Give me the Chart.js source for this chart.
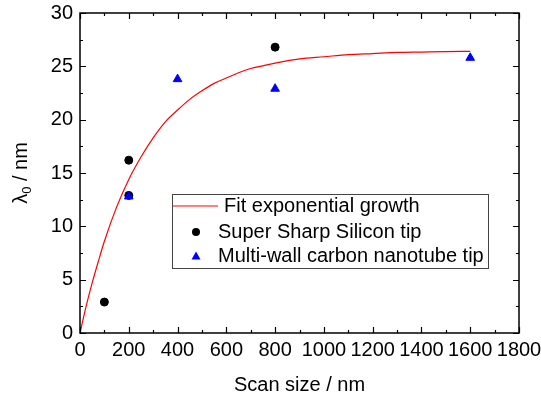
<!DOCTYPE html>
<html>
<head>
<meta charset="utf-8">
<script src="https://cdn.jsdelivr.net/npm/chart.js@4/dist/chart.umd.min.js"></script>
<style>
  html, body { margin: 0; padding: 0; background: #fff; }
  #wrap { width: 541px; height: 395px; position: relative; }
</style>
</head>
<body>
<div id="wrap"><canvas id="chart" width="541" height="395"></canvas></div>
<script>
// Super Sharp Silicon tip (black circles)
const siliconX = [100, 200, 200, 800];
const siliconY = [2.9, 16.2, 12.9, 26.8];

// Multi-wall carbon nanotube tip (blue triangles)
const nanotubeX = [200, 400, 800, 1600];
const nanotubeY = [12.8, 23.8, 22.9, 25.8];

// Fit exponential growth curve
const fitX = [0, 25, 50, 75, 100, 150, 200, 250, 300, 350, 400, 450, 500, 550, 600, 650, 700, 750, 800, 900, 1000, 1100, 1200, 1300, 1400, 1500, 1600];
const fitY = [0, 2.5, 4.7, 6.7, 8.6, 11.8, 14.4, 16.5, 18.3, 19.8, 20.9, 21.9, 22.7, 23.4, 23.9, 24.4, 24.8, 25.05, 25.3, 25.7, 25.9, 26.1, 26.2, 26.3, 26.34, 26.38, 26.4];

// Axis ticks
const xTicks = [0, 200, 400, 600, 800, 1000, 1200, 1400, 1600, 1800];
const yTicks = [0, 5, 10, 15, 20, 25, 30];

const legendLabels = ["Fit exponential growth", "Super Sharp Silicon tip", "Multi-wall carbon nanotube tip"];

const FONT = "'Liberation Sans', Arial, sans-serif";

function toPoints(xs, ys) {
  return xs.map((x, i) => ({ x: x, y: ys[i] }));
}

// Frame with inward major/minor ticks on all four sides
const framePlugin = {
  id: 'frame',
  afterDatasetsDraw(chart) {
    const ctx = chart.ctx;
    const a = chart.chartArea;
    const xs = chart.scales.x, ys = chart.scales.y;
    ctx.save();
    ctx.strokeStyle = '#000';
    ctx.lineWidth = 1.5;
    ctx.strokeRect(a.left, a.top, a.right - a.left, a.bottom - a.top);
    ctx.lineWidth = 1.2;
    ctx.beginPath();
    for (let v = 0; v <= 1800; v += 100) {
      const len = (v % 200 === 0) ? 6 : 3;
      const px = Math.round(xs.getPixelForValue(v)) + 0.5;
      ctx.moveTo(px, a.bottom); ctx.lineTo(px, a.bottom - len);
      ctx.moveTo(px, a.top); ctx.lineTo(px, a.top + len);
    }
    for (let v = 0; v <= 30; v += 2.5) {
      const len = (v % 5 === 0) ? 6 : 3;
      const py = Math.round(ys.getPixelForValue(v)) + 0.5;
      ctx.moveTo(a.left, py); ctx.lineTo(a.left + len, py);
      ctx.moveTo(a.right, py); ctx.lineTo(a.right - len, py);
    }
    ctx.stroke();
    ctx.restore();
  }
};

// Axis titles (with the subscript on lambda)
const titlesPlugin = {
  id: 'titles',
  afterDraw(chart) {
    const ctx = chart.ctx;
    const a = chart.chartArea;
    ctx.save();
    ctx.fillStyle = '#000';
    ctx.font = '20px ' + FONT;
    ctx.textAlign = 'center';
    ctx.textBaseline = 'alphabetic';
    ctx.fillText('Scan size / nm', (a.left + a.right) / 2, 391);

    // y title, rotated
    ctx.translate(27, (a.top + a.bottom) / 2);
    ctx.rotate(-Math.PI / 2);
    ctx.textAlign = 'left';
    const big = '20px ' + FONT, small = '13px ' + FONT;
    ctx.font = big;
    const w1 = ctx.measureText('\u03bb').width;
    const w3 = ctx.measureText(' / nm').width;
    ctx.font = small;
    const w2 = ctx.measureText('0').width;
    let x = -(w1 + w2 + w3) / 2;
    ctx.font = big;
    ctx.fillText('\u03bb', x, 0);
    x += w1;
    ctx.font = small;
    ctx.fillText('0', x, 4);
    x += w2;
    ctx.font = big;
    ctx.fillText(' / nm', x, 0);
    ctx.restore();
  }
};

// Legend box inside the plot
const legendPlugin = {
  id: 'boxLegend',
  afterDraw(chart) {
    const ctx = chart.ctx;
    ctx.save();
    ctx.strokeStyle = '#444';
    ctx.lineWidth = 1;
    ctx.strokeRect(172.5, 194.5, 316, 74);
    ctx.font = '20px ' + FONT;
    ctx.textBaseline = 'middle';
    ctx.fillStyle = '#000';

    // fit line sample
    ctx.strokeStyle = '#ff0000';
    ctx.beginPath();
    ctx.moveTo(173, 206); ctx.lineTo(218, 206);
    ctx.stroke();
    ctx.fillText(legendLabels[0], 224, 206);

    // circle
    ctx.beginPath();
    ctx.arc(196, 232, 4, 0, Math.PI * 2);
    ctx.fill();
    ctx.fillText(legendLabels[1], 218, 232);

    // triangle
    ctx.fillStyle = '#0000ff';
    ctx.beginPath();
    ctx.moveTo(196, 251.5); ctx.lineTo(200.5, 259.5); ctx.lineTo(191.5, 259.5);
    ctx.closePath();
    ctx.fill();
    ctx.fillStyle = '#000';
    ctx.fillText(legendLabels[2], 218, 256);
    ctx.restore();
  }
};

new Chart(document.getElementById('chart').getContext('2d'), {
  type: 'scatter',
  data: {
    datasets: [
      {
        label: legendLabels[0],
        type: 'line',
        data: toPoints(fitX, fitY),
        borderColor: '#ff0000',
        borderWidth: 1.2,
        pointRadius: 0,
        fill: false,
        cubicInterpolationMode: 'monotone',
        order: 0
      },
      {
        label: legendLabels[1],
        data: toPoints(siliconX, siliconY),
        backgroundColor: '#000',
        borderColor: '#000',
        pointStyle: 'circle',
        pointRadius: 4,
        order: 2
      },
      {
        label: legendLabels[2],
        data: toPoints(nanotubeX, nanotubeY),
        backgroundColor: '#0000ff',
        borderColor: '#0000ff',
        pointStyle: 'triangle',
        pointRadius: 5,
        order: 1
      }
    ]
  },
  options: {
    responsive: false,
    animation: false,
    layout: { padding: { top: 13, right: 22, left: 0, bottom: 0 } },
    plugins: {
      legend: { display: false },
      tooltip: { enabled: false }
    },
    scales: {
      x: {
        type: 'linear',
        min: 0, max: 1800,
        afterBuildTicks: s => { s.ticks = xTicks.map(v => ({ value: v })); },
        afterFit: s => { s.height = 62; s.paddingLeft = 0; s.paddingRight = 0; },
        grid: { display: false, drawTicks: false },
        border: { display: false },
        ticks: { color: '#000', font: { family: FONT, size: 20 }, padding: 5, maxRotation: 0, autoSkip: false, callback: v => String(v) }
      },
      y: {
        type: 'linear',
        min: 0, max: 30,
        afterBuildTicks: s => { s.ticks = yTicks.map(v => ({ value: v })); },
        afterFit: s => { s.width = 80; s.paddingTop = 0; s.paddingBottom = 0; },
        grid: { display: false, drawTicks: false },
        border: { display: false },
        ticks: { color: '#000', font: { family: FONT, size: 20 }, padding: 7, callback: v => String(v) }
      }
    }
  },
  plugins: [framePlugin, titlesPlugin, legendPlugin]
});
</script>
</body>
</html>
